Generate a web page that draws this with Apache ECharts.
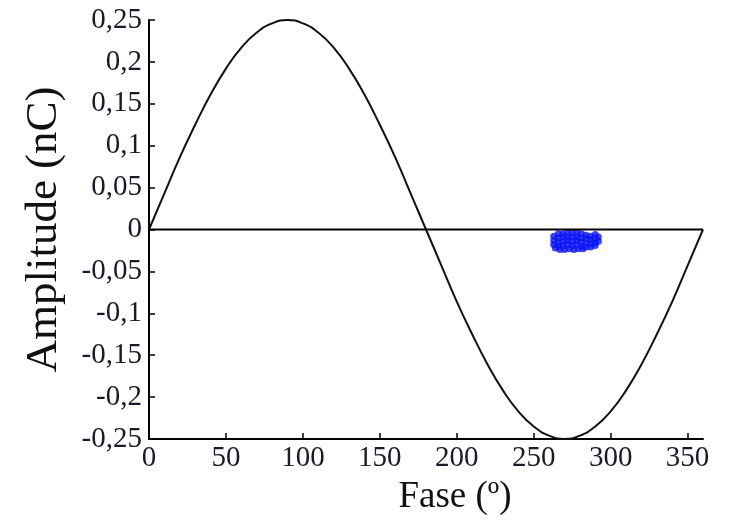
<!DOCTYPE html>
<html>
<head>
<meta charset="utf-8">
<script src="https://cdn.jsdelivr.net/npm/echarts@6/dist/echarts.min.js"></script>
<style>
html,body{margin:0;padding:0;background:#fff;}
#chart{width:738px;height:523px;}
</style>
</head>
<body>
<div id="chart"></div>
<script>
// Phase (degrees) sampled along the reference curve
const phaseDeg = [0,10,20,30,40,50,60,70,80,90,100,110,120,130,140,150,160,170,180,190,200,210,220,230,240,250,260,270,280,290,300,310,320,330,340,350,360];
// Amplitude (nC)
const refAmplitude = [0,0.043,0.086,0.125,0.161,0.192,0.217,0.235,0.246,0.25,0.246,0.235,0.217,0.192,0.161,0.125,0.086,0.043,0,-0.043,-0.086,-0.125,-0.161,-0.192,-0.217,-0.235,-0.246,-0.25,-0.246,-0.235,-0.217,-0.192,-0.161,-0.125,-0.086,-0.043,0];
// Zero line
const zeroLine = [[0,0],[360,0]];
// Partial discharge pulses (phase, amplitude nC)
const pulses = [
  [263,-0.008],[263,-0.013],[263,-0.018],[264,-0.022],
  [266,-0.005],[266,-0.010],[266,-0.015],[266,-0.020],[267,-0.024],
  [269,-0.005],[269,-0.009],[269,-0.014],[269,-0.019],[270,-0.024],
  [272,-0.004],[272,-0.009],[272,-0.013],[272,-0.018],[273,-0.023],
  [275,-0.004],[275,-0.009],[275,-0.014],[275,-0.019],[276,-0.024],
  [278,-0.004],[278,-0.009],[278,-0.013],[278,-0.018],[279,-0.023],
  [281,-0.005],[281,-0.010],[281,-0.015],[281,-0.020],[282,-0.023],
  [284,-0.007],[284,-0.011],[284,-0.016],[284,-0.021],
  [287,-0.008],[287,-0.012],[287,-0.017],[287,-0.021],
  [290,-0.006],[290,-0.011],[290,-0.016],[290,-0.019],
  [292,-0.009],[292,-0.014]
];
const xTicks = [0,50,100,150,200,250,300,350];
const yTicks = [-0.25,-0.2,-0.15,-0.1,-0.05,0,0.05,0.1,0.15,0.2,0.25];

const serif = '"Liberation Serif","Times New Roman",Times,serif';
const chart = echarts.init(document.getElementById('chart'), null, {renderer:'canvas'});
chart.setOption({
  animation: false,
  backgroundColor: '#fff',
  grid: {left:149, right:35, top:20, bottom:84, containLabel:false},
  xAxis: {
    type:'value', min:0, max:360,
    name:'Fase (º)', nameLocation:'middle', nameGap:40,
    nameTextStyle:{fontFamily:serif, fontSize:37, color:'#111', padding:[0,0,0,58]},
    axisLine:{show:true, onZero:false, lineStyle:{color:'#000', width:2}},
    axisTick:{show:true, inside:true, length:6, customValues:xTicks, lineStyle:{color:'#000', width:1.5}},
    axisLabel:{customValues:xTicks, margin:5, fontFamily:serif, fontSize:29, color:'#1a1a2a'},
    splitLine:{show:false}
  },
  yAxis: {
    type:'value', min:-0.25, max:0.25, interval:0.05,
    name:'Amplitude (nC)', nameLocation:'middle', nameGap:82, nameRotate:90,
    nameTextStyle:{fontFamily:serif, fontSize:45, color:'#111'},
    axisLine:{show:true, onZero:false, lineStyle:{color:'#000', width:2}},
    axisTick:{show:true, inside:true, length:6, customValues:yTicks, lineStyle:{color:'#000', width:1.5}},
    axisLabel:{customValues:yTicks, margin:7, fontFamily:serif, fontSize:29, color:'#1a1a2a',
      formatter: v => Number(Number(v).toFixed(2)).toString().replace('.', ',')},
    splitLine:{show:false}
  },
  series: [
    {type:'line', data: phaseDeg.map((p,i)=>[p, refAmplitude[i]]), smooth:true, showSymbol:false,
     lineStyle:{color:'#111', width:2}},
    {type:'line', data: zeroLine, showSymbol:false, lineStyle:{color:'#000', width:2}},
    {type:'scatter', data: pulses, symbol:'circle', symbolSize:7, itemStyle:{color:'#0a14f5'}}
  ]
});
</script>
</body>
</html>
